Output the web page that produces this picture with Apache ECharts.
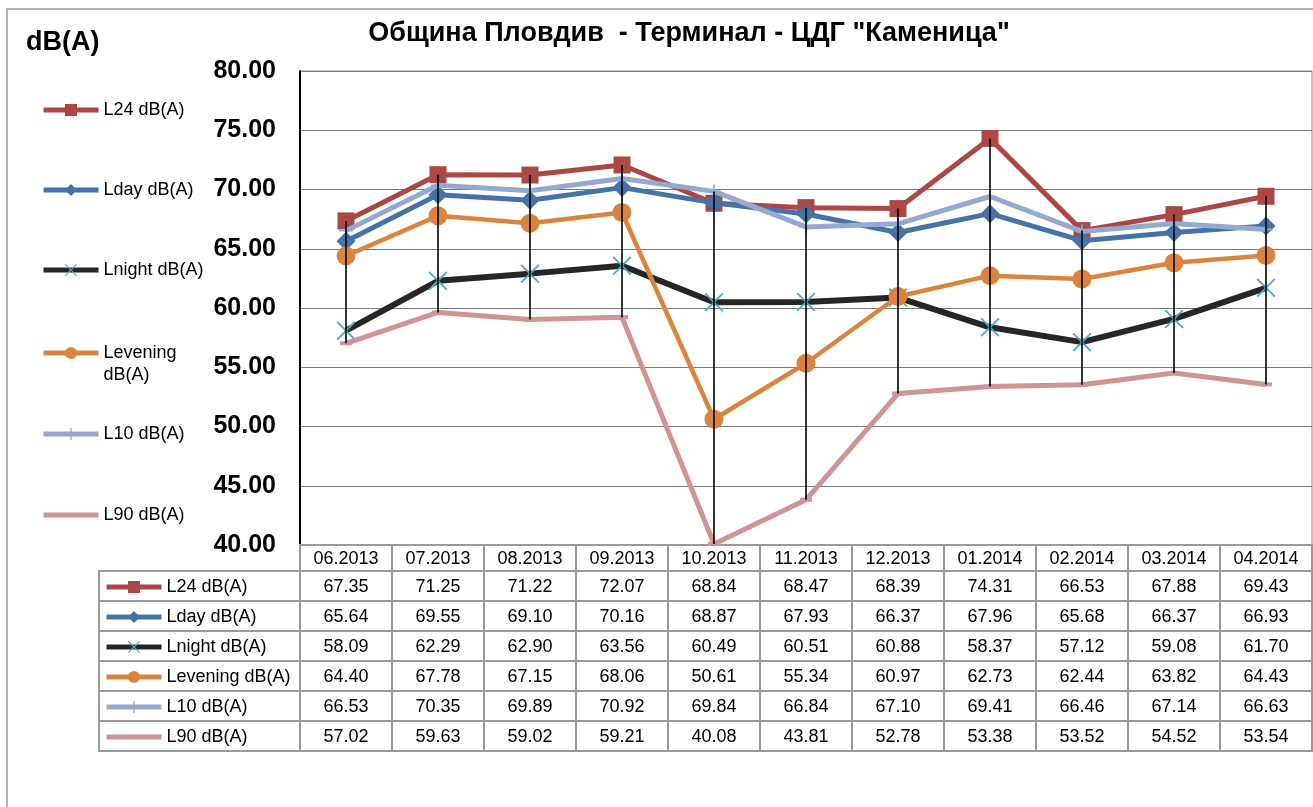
<!DOCTYPE html>
<html>
<head>
<meta charset="utf-8">
<script src="https://cdn.jsdelivr.net/npm/echarts@6/dist/echarts.min.js"></script>
<style>
html, body { margin: 0; padding: 0; background: #fff; }
#app { width: 1313px; height: 807px; }
</style>
</head>
<body>
<div id="app"></div>
<script>
// months
const categories = ['06.2013', '07.2013', '08.2013', '09.2013', '10.2013', '11.2013', '12.2013', '01.2014', '02.2014', '03.2014', '04.2014'];

const L24 = [67.35, 71.25, 71.22, 72.07, 68.84, 68.47, 68.39, 74.31, 66.53, 67.88, 69.43];
const Lday = [65.64, 69.55, 69.10, 70.16, 68.87, 67.93, 66.37, 67.96, 65.68, 66.37, 66.93];
const Lnight = [58.09, 62.29, 62.90, 63.56, 60.49, 60.51, 60.88, 58.37, 57.12, 59.08, 61.70];
const Levening = [64.40, 67.78, 67.15, 68.06, 50.61, 55.34, 60.97, 62.73, 62.44, 63.82, 64.43];
const L10 = [66.53, 70.35, 69.89, 70.92, 69.84, 66.84, 67.10, 69.41, 66.46, 67.14, 66.63];
const L90 = [57.02, 59.63, 59.02, 59.21, 40.08, 43.81, 52.78, 53.38, 53.52, 54.52, 53.54];

const seriesNames = ['L24 dB(A)', 'Lday dB(A)', 'Lnight dB(A)', 'Levening dB(A)', 'L10 dB(A)', 'L90 dB(A)'];
const seriesValues = [L24, Lday, Lnight, Levening, L10, L90];

const yTicks = { min: 40, max: 80, step: 5 };

const FONT = '"Liberation Sans", Arial, sans-serif';
const GRID = { left: 300, right: 1, top: 71, bottom: 262 };
const HEAD_H = 26, ROW_H = 30, TABLE_LEFT = 99;
const CELL_LINE = '#9a9a9a';

// marker shapes (excel-like)
const symX = 'path://M0,0.8L0.8,0L6,5.2L11.2,0L12,0.8L6.8,6L12,11.2L11.2,12L6,6.8L0.8,12L0,11.2L5.2,6Z';
const symPlus = 'path://M5.3,0h1.4v12h-1.4zM0,5.3h12v1.4H0z';
const symDash = 'path://M0,0h.01v.01H0zM0,4h12v4H0zM11.99,11.99h.01v.01h-.01z';

const styles = [
  { color: '#ab4744', mark: '#ab4744', symbol: 'rect', size: 17, width: 5 },
  { color: '#4572a7', mark: '#4572a7', symbol: 'diamond', size: 19, width: 5 },
  { color: '#262626', mark: '#4bacc6', symbol: symX, size: 19, width: 6 },
  { color: '#db843d', mark: '#db843d', symbol: 'circle', size: 19, width: 4.5 },
  { color: '#93a9cf', mark: '#93a9cf', symbol: symPlus, size: 14, width: 5 },
  { color: '#d09492', mark: '#d09492', symbol: symDash, size: 12, width: 5 }
];

let chart = echarts.init(document.getElementById('app'));

// high-low lines
const hiLo = categories.map((c, i) => {
  let vals = seriesValues.map(s => s[i]);
  return [i, Math.min.apply(null, vals), Math.max.apply(null, vals)];
});

let lineSeries = seriesNames.map((name, k) => ({
  name: name,
  type: 'line',
  data: seriesValues[k],
  symbol: styles[k].symbol,
  symbolSize: styles[k].size,
  showAllSymbol: true,
  lineStyle: { color: styles[k].color, width: styles[k].width },
  itemStyle: { color: styles[k].mark },
  emphasis: { disabled: true },
  z: 2 + k * 0.1
}));

// left legends, one per item so each sits where the original has it
const legendCenters = [110, 190, 270, 353, 434, 515];
let legends = seriesNames.map((name, k) => {
  let two = name === 'Levening dB(A)';
  return {
    orient: 'vertical',
    left: 41,
    top: two ? legendCenters[k] - 33 : legendCenters[k] - 10,
    padding: 0,
    itemWidth: 55,
    itemHeight: 15,
    lineStyle: { width: 5 },
    data: [name],
    formatter: two ? '\nLevening\ndB(A)' : '{name}',
    textStyle: { fontSize: 18, fontFamily: FONT, color: '#000', lineHeight: two ? 22 : 20 }
  };
});
// legend column of the data table
legends.push({
  orient: 'vertical',
  left: 104,
  top: 572,
  padding: 0,
  itemGap: 0,
  itemWidth: 55,
  itemHeight: 15,
  lineStyle: { width: 5 },
  data: seriesNames,
  textStyle: { fontSize: 18, fontFamily: FONT, color: '#000', lineHeight: 30 }
});

let tableSide = [];
seriesNames.forEach((n, r) => {
  tableSide.push({
    type: 'rect',
    shape: { x: TABLE_LEFT, y: 807 - GRID.bottom + HEAD_H + r * ROW_H, width: GRID.left - TABLE_LEFT, height: ROW_H },
    style: { fill: 'none', stroke: CELL_LINE, lineWidth: 2 },
    z: 1
  });
});

let option = {
  backgroundColor: '#fff',
  animation: false,
  textStyle: { fontFamily: FONT },
  title: [{
    text: 'Община Пловдив  - Терминал - ЦДГ "Каменица"',
    left: 684,
    top: 15,
    textAlign: 'center',
    textStyle: { fontSize: 27, fontWeight: 'bold', color: '#000', fontFamily: FONT }
  }, {
    text: 'dB(A)',
    left: 21,
    top: 24,
    textStyle: { fontSize: 27, fontWeight: 'bold', color: '#000', fontFamily: FONT }
  }],
  legend: legends,
  grid: {
    left: GRID.left, right: GRID.right, top: GRID.top, bottom: GRID.bottom,
    show: true, borderColor: '#8c8c8c', borderWidth: 1
  },
  xAxis: {
    type: 'category',
    data: categories,
    boundaryGap: true,
    axisLine: { show: true, lineStyle: { color: CELL_LINE, width: 2 } },
    axisTick: { show: false },
    axisLabel: { fontSize: 18, color: '#000', margin: 5, fontFamily: FONT, interval: 0 },
    splitLine: { show: false }
  },
  yAxis: {
    type: 'value',
    min: yTicks.min,
    max: yTicks.max,
    interval: yTicks.step,
    axisLine: { show: true, lineStyle: { color: '#000', width: 2 } },
    axisTick: { show: false },
    axisLabel: {
      fontSize: 25, fontWeight: 'bold', color: '#000', margin: 24, fontFamily: FONT,
      formatter: v => v.toFixed(2)
    },
    splitLine: { show: true, lineStyle: { color: '#7a7a7a', width: 1 } }
  },
  series: lineSeries.concat([{
    name: 'hilo',
    type: 'custom',
    data: hiLo,
    z: 5,
    silent: true,
    renderItem: function (params, api) {
      let top = api.coord([api.value(0), api.value(2)]);
      let bot = api.coord([api.value(0), api.value(1)]);
      return {
        type: 'line',
        shape: { x1: top[0], y1: top[1], x2: bot[0], y2: bot[1] },
        style: { stroke: '#000', lineWidth: 1.6 }
      };
    }
  }, {
    name: 'table',
    type: 'custom',
    data: categories.map((c, i) => [i, yTicks.min]),
    silent: true,
    clip: false,
    z: 1,
    renderItem: function (params, api) {
      let i = api.value(0);
      let p = api.coord([i, yTicks.min]);
      let w = api.size([1, 0])[0];
      let x0 = p[0] - w / 2;
      let y0 = p[1];
      let kids = [{
        type: 'rect',
        shape: { x: x0, y: y0, width: w, height: HEAD_H },
        style: { fill: 'none', stroke: CELL_LINE, lineWidth: 2 }
      }];
      seriesValues.forEach((vals, r) => {
        let y = y0 + HEAD_H + r * ROW_H;
        kids.push({
          type: 'rect',
          shape: { x: x0, y: y, width: w, height: ROW_H },
          style: { fill: 'none', stroke: CELL_LINE, lineWidth: 2 }
        });
        kids.push({
          type: 'text',
          x: p[0],
          y: y + ROW_H / 2 + 1,
          style: {
            text: vals[i].toFixed(2),
            align: 'center',
            verticalAlign: 'middle',
            fontSize: 18,
            fontFamily: FONT,
            fill: '#000'
          }
        });
      });
      return { type: 'group', children: kids };
    }
  }]),
  graphic: [{
    type: 'rect',
    shape: { x: 7, y: 9, width: 1330, height: 830 },
    style: { fill: 'none', stroke: '#9a9a9a', lineWidth: 1.5 },
    z: 0
  }].concat(tableSide)
};

chart.setOption(option);
</script>
</body>
</html>
